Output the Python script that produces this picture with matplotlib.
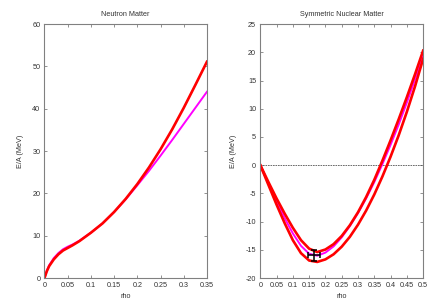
import matplotlib
matplotlib.use("Agg")
import matplotlib.pyplot as plt
from matplotlib.ticker import FormatStrFormatter, MultipleLocator

# Neutron matter, E/A (MeV) vs rho
rho_nm = [0, 0.005, 0.01, 0.02, 0.03, 0.04, 0.05, 0.06, 0.075, 0.1, 0.125,
          0.15, 0.175, 0.2, 0.225, 0.25, 0.275, 0.3, 0.325, 0.35]
nm_red = [0, 1.6, 2.8, 4.4, 5.6, 6.5, 7.1, 7.7, 8.7, 10.7, 12.9,
          15.6, 18.7, 22.2, 26.1, 30.4, 35.1, 40.2, 45.6, 51.1]
nm_mag = [0, 1.7, 3.0, 4.7, 5.9, 6.8, 7.4, 7.9, 8.8, 10.7, 12.9,
          15.6, 18.6, 21.9, 25.3, 28.9, 32.6, 36.4, 40.2, 44.0]

# Symmetric nuclear matter
rho_snm = [0, 0.025, 0.05, 0.075, 0.1, 0.125, 0.15, 0.175, 0.2, 0.225, 0.25,
           0.275, 0.3, 0.325, 0.35, 0.375, 0.4, 0.425, 0.45, 0.475, 0.5]
snm_red_lo = [0, -3.5, -7.0, -10.3, -13.3, -15.6, -16.9, -17.15, -16.7, -15.8, -14.45,
              -12.7, -10.55, -8.05, -5.2, -2.0, 1.5, 5.3, 9.45, 13.95, 18.85]
snm_red_hi = [0, -3.0, -5.9, -8.6, -11.1, -13.3, -14.8, -15.4, -14.95, -14.0, -12.55,
              -10.65, -8.35, -5.65, -2.6, 0.8, 4.4, 8.15, 12.05, 16.1, 20.3]
snm_mag = [0, -3.2, -6.4, -9.4, -12.1, -14.3, -15.7, -16.05, -15.5, -14.4, -12.8,
           -10.8, -8.5, -5.9, -3.0, 0.2, 3.6, 7.2, 11.1, 15.2, 19.4]

# empirical saturation point
sat_rho, sat_e = 0.166, -16.0
sat_drho, sat_de = 0.018, 1.0

plt.rcParams['font.family'] = ['Liberation Sans', 'DejaVu Sans']
fs = 5.2
gray = '#808080'
txt = '#333333'

fig = plt.figure(figsize=(4.32, 3.03), dpi=100)
ax1 = fig.add_axes([0.103, 0.0825, 0.376, 0.838])
ax2 = fig.add_axes([0.6025, 0.0825, 0.377, 0.838])


def style(ax):
    for s in ax.spines.values():
        s.set_color(gray)
        s.set_linewidth(0.8)
    ax.tick_params(direction='in', length=2.5, width=0.6, color=gray,
                   top=True, right=True, labelsize=fs, labelcolor=txt, pad=3)
    ax.xaxis.set_major_formatter(FormatStrFormatter('%g'))
    ax.yaxis.set_major_formatter(FormatStrFormatter('%g'))
    ax.set_xlabel('rho', fontsize=fs, color=txt, labelpad=3)
    ax.set_ylabel('E/A (MeV)', fontsize=fs, color=txt, labelpad=6)


ax1.plot(rho_nm, nm_mag, color='magenta', lw=1.4)
ax1.plot(rho_nm, nm_red, color='red', lw=1.9)
ax1.set_xlim(0, 0.35)
ax1.set_ylim(0, 60)
ax1.xaxis.set_major_locator(MultipleLocator(0.05))
ax1.yaxis.set_major_locator(MultipleLocator(10))
ax1.set_title('Neutron Matter', fontsize=fs, color=txt, pad=6)
style(ax1)

ax2.axhline(0, color='#555555', lw=0.6, ls=(0, (2, 1)))
ax2.plot(rho_snm, snm_mag, color='magenta', lw=1.4)
ax2.plot(rho_snm, snm_red_lo, color='red', lw=1.9)
ax2.plot(rho_snm, snm_red_hi, color='red', lw=1.9)
ax2.errorbar([sat_rho], [sat_e], xerr=[sat_drho], yerr=[sat_de], color='black',
             lw=1.1, capsize=2, capthick=1.1, fmt='none', zorder=5)
ax2.set_xlim(0, 0.5)
ax2.set_ylim(-20, 25)
ax2.xaxis.set_major_locator(MultipleLocator(0.05))
ax2.yaxis.set_major_locator(MultipleLocator(5))
ax2.set_title('Symmetric Nuclear Matter', fontsize=fs, color=txt, pad=6)
style(ax2)

fig.savefig('out.png', dpi=100)
